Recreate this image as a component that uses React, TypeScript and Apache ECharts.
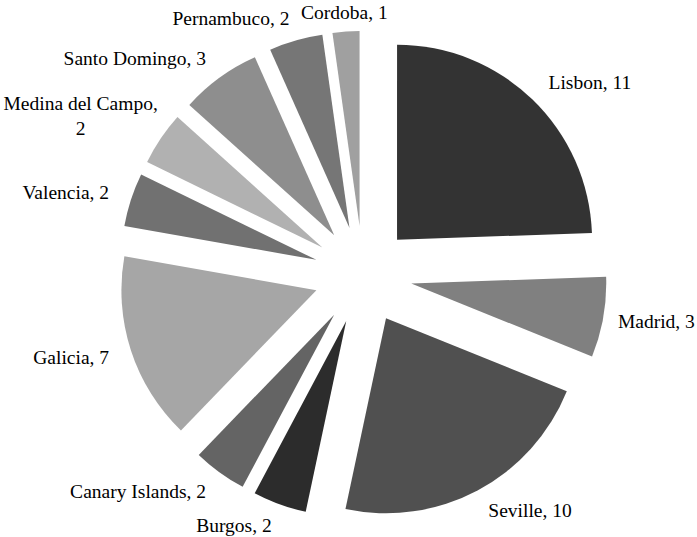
import React, { useEffect, useRef } from "react";
import * as echarts from "echarts";

const categories = [
  "Lisbon",
  "Madrid",
  "Seville",
  "Burgos",
  "Canary Islands",
  "Galicia",
  "Valencia",
  "Medina del Campo",
  "Santo Domingo",
  "Pernambuco",
  "Cordoba",
];
const values = [11, 3, 10, 2, 2, 7, 2, 2, 3, 2, 1];
const colors = [
  "#333333",
  "#808080",
  "#505050",
  "#2c2c2c",
  "#646464",
  "#a6a6a6",
  "#717171",
  "#b1b1b1",
  "#8e8e8e",
  "#767676",
  "#a0a0a0",
];

const FONT = "Liberation Serif";

export default function App() {
  const ref = useRef<HTMLDivElement>(null);
  useEffect(() => {
    if (!ref.current) return;
    const chart = echarts.init(ref.current, undefined, { renderer: "svg" });
    const data = categories.map((name, i) => ({
      name,
      value: values[i],
      selected: true,
      itemStyle: { color: colors[i] },
    }));
    chart.setOption({
      animation: false,
      backgroundColor: "#ffffff",
      series: [
        {
          type: "pie",
          center: [363, 275],
          radius: 195,
          startAngle: 90,
          clockwise: true,
          selectedMode: "multiple",
          selectedOffset: 49,
          avoidLabelOverlap: false,
          minShowLabelAngle: 0,
          emphasis: { disabled: true },
          label: {
            show: true,
            position: "outside",
            color: "#000000",
            fontFamily: FONT,
            fontSize: 19.5,
            distanceToLabelLine: 0,
            formatter: (p: any) =>
              p.name === "Medina del Campo"
                ? "{c|Medina del Campo,}\n{c|" + p.value + "}"
                : p.name + ", " + p.value,
            rich: {
              c: {
                width: 162,
                align: "center",
                color: "#000000",
                fontFamily: FONT,
                fontSize: 19.5,
                lineHeight: 25,
              },
            },
          },
          labelLine: { show: false, length: 23, length2: 0 },
          labelLayout: (p: any) => {
            const name = categories[p.dataIndex];
            if (name === "Cordoba") return { align: "center", dy: 4 };
            if (name === "Madrid") return { dx: -8 };
            if (name === "Medina del Campo") return { dx: 20, dy: -10 };
            return {};
          },
          data,
        },
      ],
    });
    return () => chart.dispose();
  }, []);
  return (
    <div
      ref={ref}
      style={{ position: "absolute", left: 0, top: 0, width: 697, height: 537 }}
    />
  );
}
